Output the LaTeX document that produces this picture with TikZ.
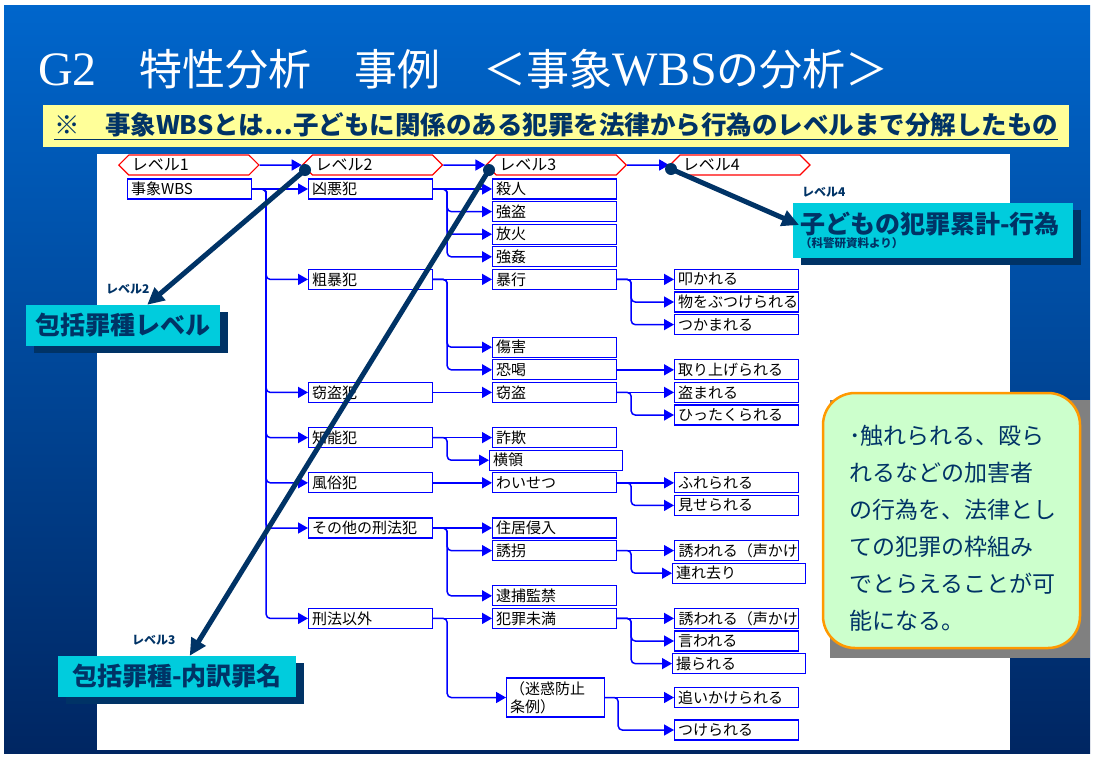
\documentclass[tikz,border=0pt]{standalone}
\usepackage{fontspec}
\setmainfont{Noto Sans CJK JP}
\newfontfamily\romanfont{Liberation Serif}
\usetikzlibrary{shapes.symbols, arrows.meta, positioning, shadows}

\definecolor{bgtop}{RGB}{0,102,204}
\definecolor{bgbot}{RGB}{0,38,98}
\definecolor{navy}{RGB}{0,51,102}
\definecolor{aqua}{RGB}{0,204,221}
\definecolor{notebg}{RGB}{255,255,153}
\definecolor{linkblue}{RGB}{0,0,255}
\definecolor{mint}{RGB}{204,255,204}
\definecolor{amber}{RGB}{255,153,0}

\tikzstyle{lvlhex} = [
  signal, signal to=west and east, signal pointer angle=90,
  draw=red, fill=white, line width=1.2pt,
  text width=114pt, align=left, inner xsep=3pt, inner ysep=1pt,
  minimum height=20pt, font=\fontsize{16}{17}\selectfont
]
\tikzstyle{wbsbox} = [
  rectangle, draw=linkblue, fill=white, line width=1.2pt,
  text width=117pt, align=left, inner xsep=3.5pt, inner ysep=0pt,
  minimum height=20pt, anchor=west
]
\tikzstyle{widebox} = [wbsbox, text width=126pt]
\tikzstyle{tagbox} = [
  rectangle, fill=aqua, text=navy, inner sep=0pt,
  drop shadow={fill=navy, opacity=1, shadow xshift=8pt, shadow yshift=-7pt}
]
\tikzstyle{taglabel} = [
  text=navy, inner sep=0pt, anchor=west,
  font=\bfseries\fontsize{12}{12}\selectfont
]
\tikzset{
  branch/.style={
    linkblue, line width=1.5pt, rounded corners=4pt,
    -{Triangle[length=10pt,width=11pt]}
  },
  bigarrow/.style={
    navy, line width=5pt,
    -{Triangle[length=17pt,width=16pt]}
  },
  cut/.style={
    path picture={\node[anchor=west, inner xsep=3.5pt, inner ysep=0pt]
      at (path picture bounding box.west) {#1};}
  }
}

\begin{document}
\begin{tikzpicture}[x=1pt, y=-1pt, font=\fontsize{15}{16}\selectfont]

\useasboundingbox (0,0) rectangle (1094,758);
\fill[white] (0,0) rectangle (1094,758);
\shade[top color=bgtop, bottom color=bgbot] (4,5) rectangle (1090,753);
\fill[white] (97,154) rectangle (1010,750);

% ------------------------------------------------
% TITLE AND NOTE
% ------------------------------------------------

\node[anchor=base west, text=white, inner sep=0pt] (ttl) at (38,85)
  {\fontsize{43}{50}\selectfont{\romanfont\fontsize{48}{50}\selectfont G2}　特性分析　事例　＜事象{\romanfont\fontsize{48}{50}\selectfont WBS}の分析＞};

\node[fill=notebg, minimum width=1026pt, minimum height=42pt, text=navy,
  font=\bfseries\fontsize{25.5}{28}\selectfont] (note) at (556,126)
  {\underline{※　事象WBSとは…子どもに関係のある犯罪を法律から行為のレベルまで分解したもの}};

% ------------------------------------------------
% LEVEL ROW
% ------------------------------------------------

\node[lvlhex, anchor=west] (h1) at (118,165) {レベル1};
\node[lvlhex, right=42pt of h1] (h2) {レベル2};
\node[lvlhex, right=42pt of h2] (h3) {レベル3};
\node[lvlhex, right=42pt of h3] (h4) {レベル4};

% ------------------------------------------------
% LEVELS 1 AND 2
% ------------------------------------------------

\node[wbsbox] (n0) at (127,189) {事象WBS};

\node[wbsbox] (n1) at (308,189)   {凶悪犯};
\node[wbsbox] (n2) at (308,279.4) {粗暴犯};
\node[wbsbox] (n3) at (308,392.4) {窃盗犯};
\node[wbsbox] (n4) at (308,437.6) {知能犯};
\node[wbsbox] (n5) at (308,482.8) {風俗犯};
\node[wbsbox] (n6) at (308,528)   {その他の刑法犯};
\node[wbsbox] (n7) at (308,618.4) {刑法以外};

% ------------------------------------------------
% LEVEL 3
% ------------------------------------------------

\node[wbsbox] (n8)  at (492,189)   {殺人};
\node[wbsbox] (n9)  at (492,211.6) {強盗};
\node[wbsbox] (n10) at (492,234.2) {放火};
\node[wbsbox] (n11) at (492,256.8) {強姦};
\node[wbsbox] (n12) at (492,279.4) {暴行};
\node[wbsbox] (n13) at (492,347.2) {傷害};
\node[wbsbox] (n14) at (492,369.8) {恐喝};
\node[wbsbox] (n15) at (492,392.4) {窃盗};
\node[wbsbox] (n16) at (492,437.6) {詐欺};
\node[widebox] (n17) at (489,460.2) {横領};
\node[wbsbox] (n18) at (492,482.8) {わいせつ};
\node[wbsbox] (n19) at (492,528)   {住居侵入};
\node[wbsbox] (n20) at (492,550.6) {誘拐};
\node[wbsbox] (n21) at (492,595.8) {逮捕監禁};
\node[wbsbox] (n22) at (492,618.4) {犯罪未満};
\node[wbsbox, text width=91pt, minimum height=39pt,
  font=\fontsize{15}{18}\selectfont] (n23) at (506,697.5) {（迷惑防止\\条例）};

% ------------------------------------------------
% LEVEL 4
% ------------------------------------------------

\node[wbsbox] (n24) at (674,279.4) {叩かれる};
\node[wbsbox] (n25) at (674,302)   {物をぶつけられる};
\node[wbsbox] (n26) at (674,324.6) {つかまれる};
\node[wbsbox] (n27) at (674,369.8) {取り上げられる};
\node[wbsbox] (n28) at (674,392.4) {盗まれる};
\node[wbsbox] (n29) at (674,415)   {ひったくられる};
\node[wbsbox] (n30) at (674,482.8) {ふれられる};
\node[wbsbox] (n31) at (674,505.4) {見せられる};
\node[wbsbox, cut=誘われる（声かけ）] (n32) at (674,550.6) {};
\node[widebox] (n33) at (672,573.2) {連れ去り};
\node[wbsbox, cut=誘われる（声かけ）] (n34) at (674,618.4) {};
\node[wbsbox] (n35) at (674,641)   {言われる};
\node[widebox] (n36) at (672,663.6) {撮られる};
\node[wbsbox] (n37) at (674,697.5) {追いかけられる};
\node[wbsbox] (n38) at (674,730)   {つけられる};

% ------------------------------------------------
% CONNECTORS
% ------------------------------------------------

\draw[branch] (h1) -- (h2);
\draw[branch] (h2) -- (h3);
\draw[branch] (h3) -- (h4);

\draw[branch] (n0) -- (n1);
\draw[branch] (n0.east) -- ++(14,0) |- (n2.west);
\draw[branch] (n0.east) -- ++(14,0) |- (n3.west);
\draw[branch] (n0.east) -- ++(14,0) |- (n4.west);
\draw[branch] (n0.east) -- ++(14,0) |- (n5.west);
\draw[branch] (n0.east) -- ++(14,0) |- (n6.west);
\draw[branch] (n0.east) -- ++(14,0) |- (n7.west);

\draw[branch] (n1) -- (n8);
\draw[branch] (n1.east) -- ++(14,0) |- (n9.west);
\draw[branch] (n1.east) -- ++(14,0) |- (n10.west);
\draw[branch] (n1.east) -- ++(14,0) |- (n11.west);
\draw[branch] (n2) -- (n12);
\draw[branch] (n2.east) -- ++(14,0) |- (n13.west);
\draw[branch] (n2.east) -- ++(14,0) |- (n14.west);
\draw[branch] (n3) -- (n15);
\draw[branch] (n4) -- (n16);
\draw[branch] (n4.east) -- ++(14,0) |- (n17.west);
\draw[branch] (n5) -- (n18);
\draw[branch] (n6) -- (n19);
\draw[branch] (n6.east) -- ++(14,0) |- (n20.west);
\draw[branch] (n6.east) -- ++(14,0) |- (n21.west);
\draw[branch] (n7) -- (n22);
\draw[branch] (n7.east) -- ++(14,0) |- (n23.west);

\draw[branch] (n12) -- (n24);
\draw[branch] (n12.east) -- ++(14,0) |- (n25.west);
\draw[branch] (n12.east) -- ++(14,0) |- (n26.west);
\draw[branch] (n14) -- (n27);
\draw[branch] (n15) -- (n28);
\draw[branch] (n15.east) -- ++(14,0) |- (n29.west);
\draw[branch] (n18) -- (n30);
\draw[branch] (n18.east) -- ++(14,0) |- (n31.west);
\draw[branch] (n20) -- (n32);
\draw[branch] (n20.east) -- ++(14,0) |- (n33.west);
\draw[branch] (n22) -- (n34);
\draw[branch] (n22.east) -- ++(14,0) |- (n35.west);
\draw[branch] (n22.east) -- ++(14,0) |- (n36.west);
\draw[branch] (n23) -- (n37);
\draw[branch] (n23.east) -- ++(13,0) |- (n38.west);

% ------------------------------------------------
% CALLOUTS
% ------------------------------------------------

\node[tagbox, minimum width=194pt, minimum height=41pt,
  font=\bfseries\fontsize{25}{28}\selectfont] (cb2) at (123,325.5) {包括罪種レベル};
\node[tagbox, minimum width=238pt, minimum height=41pt,
  font=\bfseries\fontsize{25}{28}\selectfont] (cb3) at (177,676.5) {包括罪種-内訳罪名};
\node[tagbox, minimum width=280pt, minimum height=55pt, text width=266pt,
  align=left, inner xsep=7pt] (cb4) at (933,230.5)
  {{\bfseries\fontsize{25}{27}\selectfont 子どもの犯罪累計-行為}\\[-2pt]
   {\bfseries\fontsize{11.5}{13}\selectfont （科警研資料より）}};

\node[taglabel] (k2) at (106,289.5) {レベル2};
\node[taglabel] (k3) at (132,640)   {レベル3};
\node[taglabel] (k4) at (802,192.5) {レベル4};

\coordinate (d2) at (305,170);
\coordinate (d3) at (489,170);
\coordinate (d4) at (671,169);
\coordinate (t4) at (799,225);

\fill[navy] (d2) circle (6pt);
\fill[navy] (d3) circle (6pt);
\fill[navy] (d4) circle (6pt);
\draw[bigarrow] (d2) -- (cb2);
\draw[bigarrow] (d3) -- (cb3);
\draw[bigarrow] (d4) -- (t4);

% ------------------------------------------------
% MEMO
% ------------------------------------------------

\fill[gray] (830,400) rectangle (1090,658);
\node[rectangle, rounded corners=32pt, fill=mint, draw=amber, line width=2.5pt,
  minimum width=257pt, minimum height=255pt, text width=205pt, inner xsep=26pt,
  align=left, text=navy, font=\fontsize{23}{37}\selectfont] (memo) at (951.5,520.5)
  {\rule{0pt}{34pt}･触れられる、殴ら\\
   れるなどの加害者\\
   の行為を、法律とし\\
   ての犯罪の枠組み\\
   でとらえることが可\\
   能になる。};

\end{tikzpicture}
\end{document}
